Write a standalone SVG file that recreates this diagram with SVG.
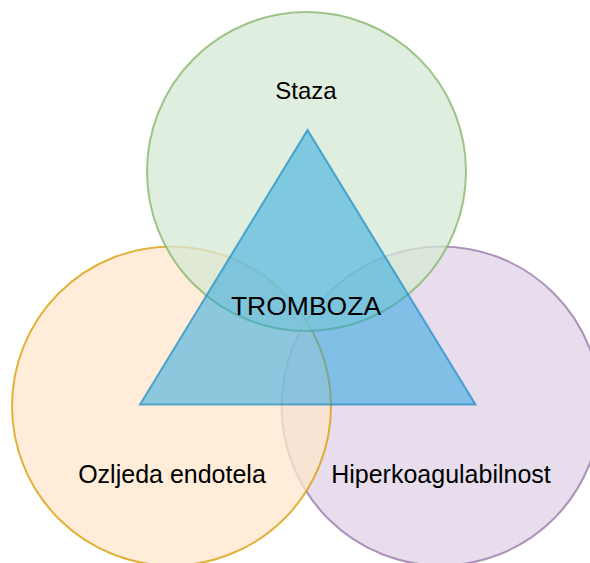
<svg xmlns="http://www.w3.org/2000/svg" width="590" height="563" viewBox="0 0 590 563">
<style>
.c{stroke-width:2}
.t{font-family:"Liberation Sans",Arial,sans-serif;fill:#000;text-anchor:middle}
</style>
<rect width="590" height="563" fill="#fff"/>
<g id="hiperkoagulabilnost">
<circle class="c" cx="441" cy="406" r="159.5" fill="#e1d5e7" fill-opacity="0.8" stroke="#9673a6" stroke-opacity="0.75"/>
</g>
<g id="ozljeda">
<circle class="c" cx="171.5" cy="406" r="159.5" fill="#ffe6cc" fill-opacity="0.75" stroke="#d79b00" stroke-opacity="0.75"/>
</g>
<g id="staza">
<circle class="c" cx="306.5" cy="171.5" r="159.5" fill="#d5e8d4" fill-opacity="0.75" stroke="#82b366" stroke-opacity="0.75"/>
</g>
<g id="tromboza">
<polygon points="307.5,130 140,404.5 475.5,404.5" fill="#1ba1e2" fill-opacity="0.5" stroke="#1b8bc4" stroke-width="2" stroke-opacity="0.7" stroke-linejoin="miter"/>
</g>
<g id="labels">
<text class="t" x="306" y="99" font-size="24">Staza</text>
<text class="t" x="306" y="315" font-size="26.5">TROMBOZA</text>
<text class="t" x="172" y="483" font-size="25">Ozljeda endotela</text>
<text class="t" x="441" y="483" font-size="25">Hiperkoagulabilnost</text>
</g>
</svg>
